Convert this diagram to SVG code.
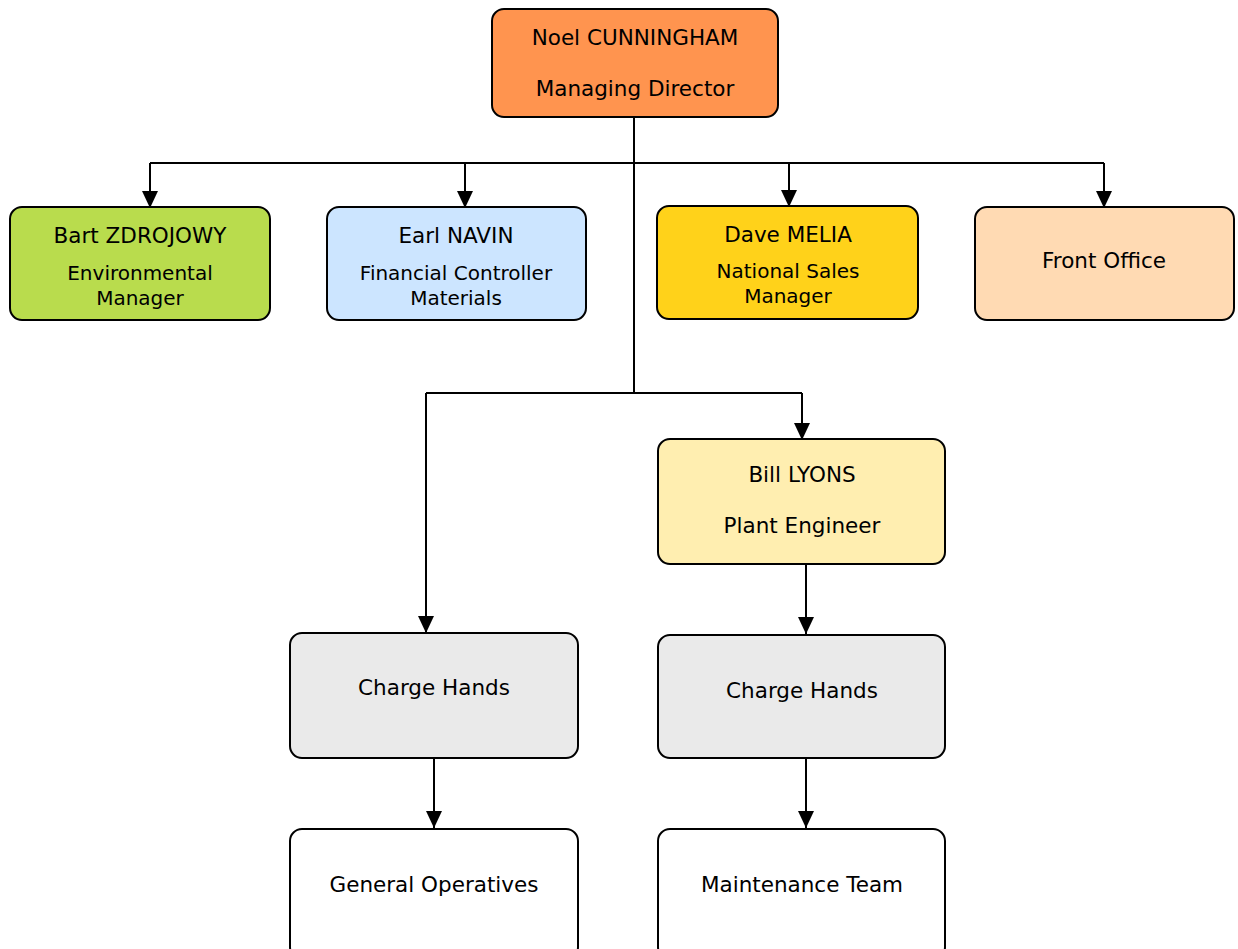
<svg xmlns="http://www.w3.org/2000/svg" width="1238" height="949" viewBox="0 0 1238 949">
<style>
.box{stroke:#000;stroke-width:2}
text{font-family:"DejaVu Sans","Verdana",sans-serif;fill:#000;text-anchor:middle}
.t{font-size:21.5px}
.s{font-size:20px}
.c{fill:none;stroke:#000;stroke-width:2}
</style>
<defs>
<marker id="ah" viewBox="0 0 17 16" refX="17" refY="8" markerWidth="17" markerHeight="16" markerUnits="userSpaceOnUse" orient="auto">
<path d="M0,0 L17,8 L0,16 Z" fill="#000"/>
</marker>
</defs>
<rect width="1238" height="949" fill="#fff"/>
<g id="connectors">
<path class="c" d="M634,117 V393"/>
<path class="c" d="M150,163 H1104"/>
<path class="c" d="M150,163 V208" marker-end="url(#ah)"/>
<path class="c" d="M465,163 V208" marker-end="url(#ah)"/>
<path class="c" d="M789,163 V207" marker-end="url(#ah)"/>
<path class="c" d="M1104,163 V208" marker-end="url(#ah)"/>
<path class="c" d="M426,393 H802"/>
<path class="c" d="M426,393 V633" marker-end="url(#ah)"/>
<path class="c" d="M802,393 V440" marker-end="url(#ah)"/>
<path class="c" d="M806,564 V634" marker-end="url(#ah)"/>
<path class="c" d="M434,758 V828" marker-end="url(#ah)"/>
<path class="c" d="M806,758 V828" marker-end="url(#ah)"/>
</g>
<g id="noel">
<rect class="box" x="492" y="9" width="286" height="108" rx="12" fill="#FF944F"/>
<text class="t" x="635" y="45">Noel CUNNINGHAM</text>
<text class="t" x="635" y="96">Managing Director</text>
</g>
<g id="bart">
<rect class="box" x="10" y="207" width="260" height="113" rx="12" fill="#B9DC4D"/>
<text class="t" x="140" y="243">Bart ZDROJOWY</text>
<text class="s" x="140" y="280">Environmental</text>
<text class="s" x="140" y="305">Manager</text>
</g>
<g id="earl">
<rect class="box" x="327" y="207" width="259" height="113" rx="12" fill="#CCE5FF"/>
<text class="t" x="456" y="243">Earl NAVIN</text>
<text class="s" x="456" y="280">Financial Controller</text>
<text class="s" x="456" y="305">Materials</text>
</g>
<g id="dave">
<rect class="box" x="657" y="206" width="261" height="113" rx="12" fill="#FFD21A"/>
<text class="t" x="788" y="242">Dave MELIA</text>
<text class="s" x="788" y="278">National Sales</text>
<text class="s" x="788" y="303">Manager</text>
</g>
<g id="front">
<rect class="box" x="975" y="207" width="259" height="113" rx="12" fill="#FFDAB3"/>
<text class="t" x="1104" y="268">Front Office</text>
</g>
<g id="bill">
<rect class="box" x="658" y="439" width="287" height="125" rx="12" fill="#FFEEB0"/>
<text class="t" x="802" y="482">Bill LYONS</text>
<text class="t" x="802" y="533">Plant Engineer</text>
</g>
<g id="charge1">
<rect class="box" x="290" y="633" width="288" height="125" rx="12" fill="#EAEAEA"/>
<text class="t" x="434" y="695">Charge Hands</text>
</g>
<g id="charge2">
<rect class="box" x="658" y="635" width="287" height="123" rx="12" fill="#EAEAEA"/>
<text class="t" x="802" y="698">Charge Hands</text>
</g>
<g id="general">
<rect class="box" x="290" y="829" width="288" height="130" rx="12" fill="#fff"/>
<text class="t" x="434" y="892">General Operatives</text>
</g>
<g id="maint">
<rect class="box" x="658" y="829" width="287" height="130" rx="12" fill="#fff"/>
<text class="t" x="802" y="892">Maintenance Team</text>
</g>
</svg>
